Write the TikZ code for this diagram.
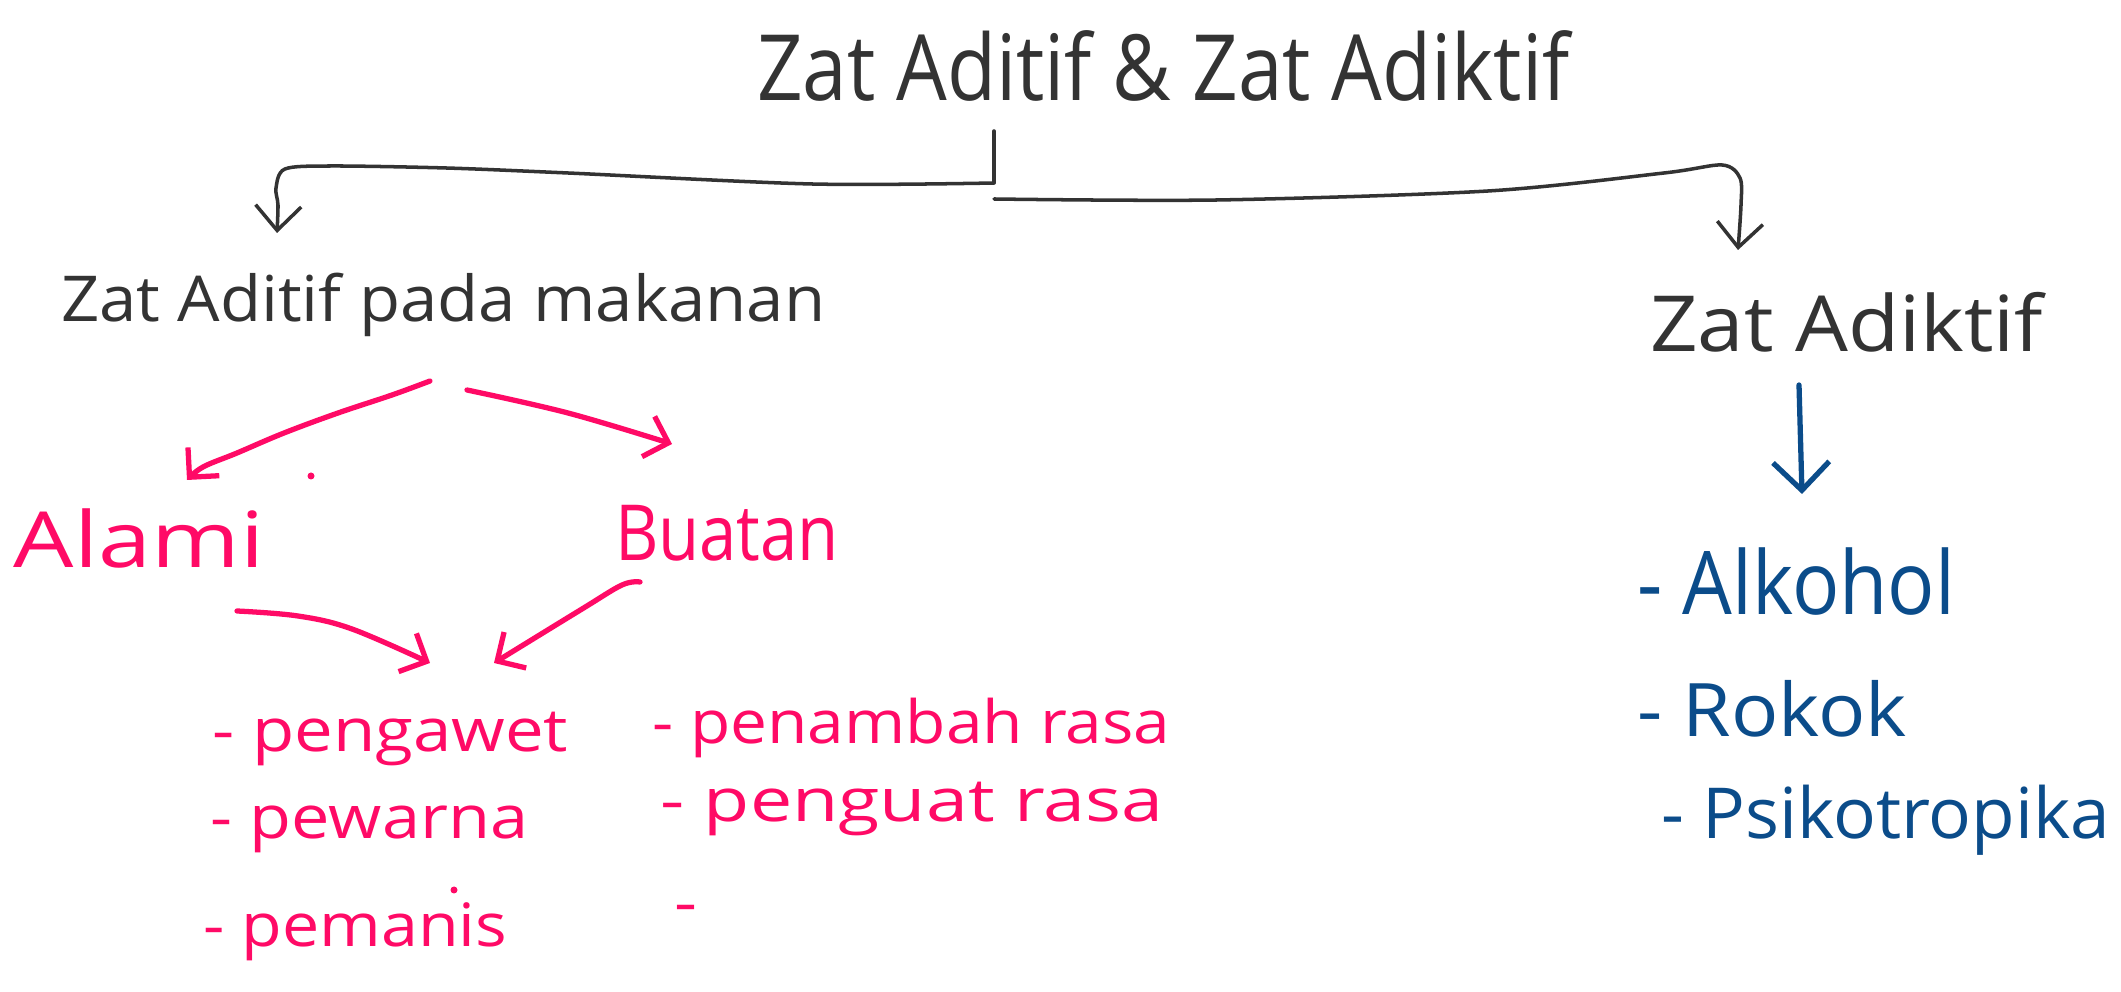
\documentclass[tikz,border=0pt]{standalone}
\usepackage{fontspec}
\setmainfont{Open Sans}
\usetikzlibrary{arrows.meta}
\definecolor{ink}{HTML}{333333}
\definecolor{pinkink}{HTML}{FF0A66}
\definecolor{blueink}{HTML}{0B4C8A}
\newcommand\fitw[3]{\resizebox{#1}{\height}{\fontsize{#2}{#2}\selectfont #3}}
\tikzset{
  lbl/.style={anchor=base west, inner sep=0pt, outer sep=0pt},
  blackline/.style={draw=ink, line width=1pt, line cap=round, line join=round},
  pinkline/.style={draw=pinkink, line width=1.5pt, line cap=round, line join=round},
  blueline/.style={draw=blueink, line width=1.5pt, line cap=round, line join=round},
  blacktip/.style={-{Straight Barb[length=7pt,width=13pt]}},
  pinktip/.style={-{Straight Barb[length=6pt,width=12pt]}},
  bluetip/.style={-{Straight Barb[length=8pt,width=16pt]}},
}
\begin{document}
\begin{tikzpicture}[x=0.01cm,y=-0.01cm]
\useasboundingbox (0,0) rectangle (2121,992);
% texts
\node[lbl,text=ink] (title) at (757,101) {\fitw{8.12cm}{26pt}{Zat Aditif \& Zat Adiktif}};
\node[lbl,text=ink] (aditif) at (61,322) {\fitw{7.64cm}{18pt}{Zat Aditif pada makanan}};
\node[lbl,text=ink] (adiktif) at (1650,352) {\fitw{3.93cm}{22pt}{Zat Adiktif}};
\node[lbl,text=pinkink] (alami) at (14,568) {\fitw{2.50cm}{22pt}{Alami}};
\node[lbl,text=pinkink] (buatan) at (615,561) {\fitw{2.24cm}{22pt}{Buatan}};
\node[lbl,text=pinkink] (pengawet) at (212,752) {\fitw{3.56cm}{17pt}{- pengawet}};
\node[lbl,text=pinkink] (pewarna) at (210,839) {\fitw{3.18cm}{17pt}{- pewarna}};
\node[lbl,text=pinkink] (pemanis) at (203,947) {\fitw{3.04cm}{17pt}{- pemanis}};
\node[lbl,text=pinkink] (penambah) at (652,744) {\fitw{5.18cm}{17pt}{- penambah rasa}};
\node[lbl,text=pinkink] (penguat) at (660,822) {\fitw{5.03cm}{17pt}{- penguat rasa}};
\node[lbl,text=pinkink] (kosong) at (674,924) {\fitw{0.23cm}{17pt}{-}};
\node[lbl,text=blueink] (alkohol) at (1637,615) {\fitw{3.18cm}{25pt}{- Alkohol}};
\node[lbl,text=blueink] (rokok) at (1637,737) {\fitw{2.70cm}{21pt}{- Rokok}};
\node[lbl,text=blueink] (psiko) at (1661,839) {\fitw{4.49cm}{20pt}{- Psikotropika}};
% stray dots
\fill[pinkink] (311,476) circle (3.5);
\fill[pinkink] (454,890) circle (3.5);
% coordinates
\coordinate (b0) at (994,131);
\coordinate (b1) at (994,183);
\coordinate (b2) at (994,199);
\coordinate (tipL) at (277,233);
\coordinate (tipR) at (1738,250);
\coordinate (sL) at (430,381);
\coordinate (tAlami) at (187,480);
\coordinate (sR) at (467,390);
\coordinate (tBuatan) at (672,444);
\coordinate (sA) at (237,611);
\coordinate (tA) at (430,663);
\coordinate (sB) at (640,582);
\coordinate (tB) at (494,663);
\coordinate (sZ) at (1799,385);
\coordinate (tZ) at (1802,494);
% black bracket
\draw[blackline] (b0) -- (b1);
\draw[blackline,blacktip] plot[smooth,tension=0.5] coordinates {(b1) (812,184) (568,173) (446,168) (331,166) (285,169) (276,188) (278,205) (tipL)};
\draw[blackline,blacktip] plot[smooth,tension=0.5] coordinates {(b2) (1217,200) (1488,191) (1664,173) (1722,165) (1740,178) (1741,205) (tipR)};
% pink arrows
\draw[pinkline,pinktip] plot[smooth,tension=0.6] coordinates {(sL) (392,395) (338,413) (284,433) (237,453) (203,467) (tAlami)};
\draw[pinkline,pinktip] plot[smooth,tension=0.6] coordinates {(sR) (568,413) (tBuatan)};
\draw[pinkline,pinktip] plot[smooth,tension=0.6] coordinates {(sA) (298,616) (352,629) (tA)};
\draw[pinkline,pinktip] plot[smooth,tension=0.6] coordinates {(sB) (622,585) (582,609) (tB)};
% blue arrow
\draw[blueline,bluetip] (sZ) -- (tZ);
\end{tikzpicture}
\end{document}
